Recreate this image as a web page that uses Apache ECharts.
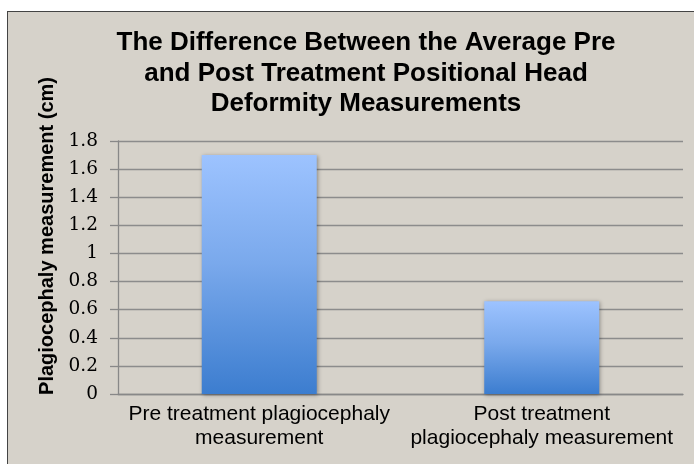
<!DOCTYPE html>
<html>
<head>
<meta charset="utf-8">
<script src="https://cdn.jsdelivr.net/npm/echarts@6/dist/echarts.min.js"></script>
<style>
  html, body { margin: 0; padding: 0; background: #fff; }
  #frame { position: absolute; left: 7px; top: 11px; width: 700px; height: 470px;
           background: #d6d2ca; border: 1px solid #444; box-sizing: border-box; }
  #chart { position: absolute; left: 0; top: 0; width: 694px; height: 464px; }
</style>
</head>
<body>
<div id="frame"></div>
<div id="chart"></div>
<script>
const categories = [
  "Pre treatment plagiocephaly\nmeasurement",
  "Post treatment\nplagiocephaly measurement"
];
const values = [1.70, 0.66];
const yTitle = "Plagiocephaly measurement (cm)";

const chart = echarts.init(document.getElementById("chart"));
chart.setOption({
  backgroundColor: "transparent",
  animation: false,
  title: {
    text: "The Difference Between the Average Pre\nand Post Treatment Positional Head\nDeformity Measurements",
    left: 361,
    textAlign: "center",
    top: 23,
    textStyle: {
      fontFamily: "Liberation Sans, Arial, sans-serif",
      fontWeight: "bold",
      fontSize: 26,
      lineHeight: 30.5,
      color: "#000"
    }
  },
  // y axis title sits higher than the plot centre in the original
  graphic: [{
    type: "text",
    x: 47,
    y: 236,
    rotation: Math.PI / 2,
    style: {
      text: yTitle,
      align: "center",
      verticalAlign: "middle",
      font: "bold 20px 'Liberation Sans', Arial, sans-serif",
      fill: "#000"
    }
  }],
  grid: { left: 118, right: 11, top: 141, bottom: 70, containLabel: false },
  xAxis: {
    type: "category",
    data: categories,
    axisLine: { show: true, lineStyle: { color: "#888", width: 1.3 } },
    axisTick: { show: false },
    axisLabel: {
      interval: 0,
      margin: 8,
      color: "#000",
      fontFamily: "Liberation Sans, Arial, sans-serif",
      fontSize: 21,
      lineHeight: 24
    }
  },
  yAxis: {
    type: "value",
    min: 0,
    max: 1.8,
    interval: 0.2,
    axisLine: { show: true, lineStyle: { color: "#888", width: 1.3 } },
    axisTick: { show: true, length: 8, lineStyle: { color: "#888", width: 1.3 } },
    axisLabel: {
      color: "#000",
      fontFamily: "DejaVu Serif, serif",
      fontSize: 18.5,
      margin: 20,
      formatter: v => String(+v.toFixed(1))
    },
    splitLine: { show: true, lineStyle: { color: "#8c8c8c", width: 1.3 } }
  },
  series: [{
    type: "bar",
    data: values,
    barWidth: 115,
    itemStyle: {
      color: new echarts.graphic.LinearGradient(0, 0, 0, 1, [
        { offset: 0, color: "#9dc3ff" },
        { offset: 0.45, color: "#7aa9ec" },
        { offset: 1, color: "#3c7dcf" }
      ]),
      shadowColor: "rgba(0,0,0,0.35)",
      shadowBlur: 4,
      shadowOffsetX: 1,
      shadowOffsetY: 1
    }
  }]
});
</script>
</body>
</html>
